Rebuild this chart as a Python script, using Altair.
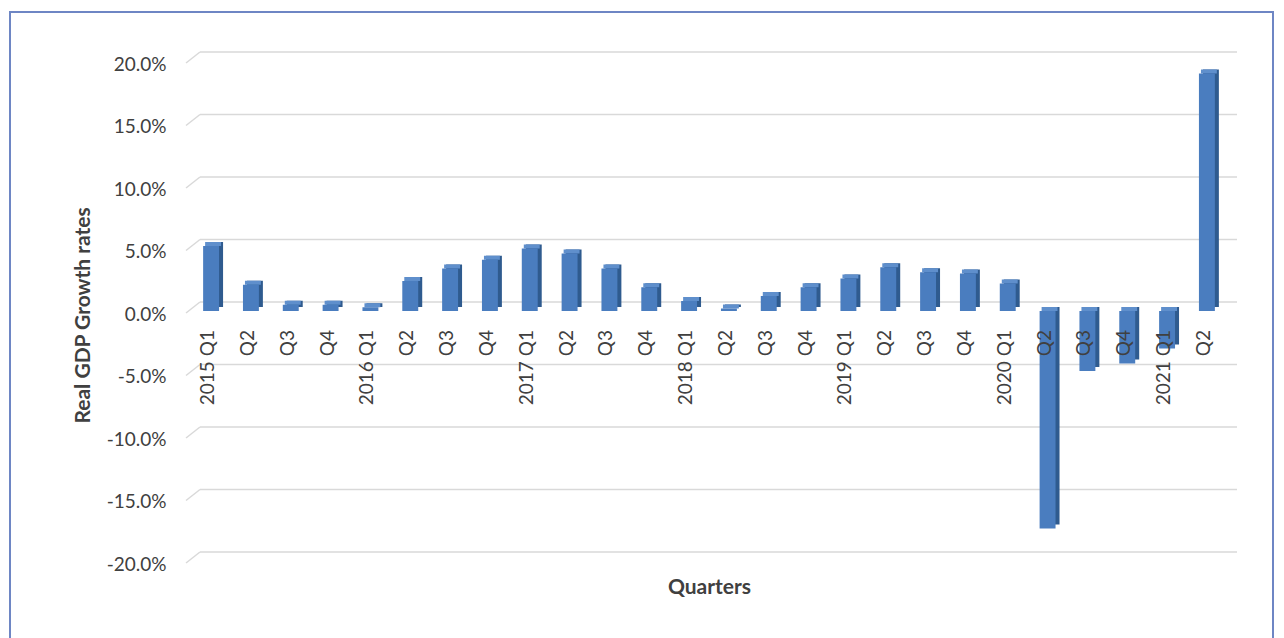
import altair as alt
import pandas as pd

labels = ["2015 Q1", "Q2", "Q3", "Q4", "2016 Q1", "Q2", "Q3", "Q4",
          "2017 Q1", "Q2", "Q3", "Q4", "2018 Q1", "Q2", "Q3", "Q4",
          "2019 Q1", "Q2", "Q3", "Q4", "2020 Q1", "Q2", "Q3", "Q4",
          "2021 Q1", "Q2"]
growth = [5.2, 2.1, 0.5, 0.5, 0.3, 2.4, 3.4, 4.1,
          5.0, 4.6, 3.4, 1.9, 0.8, 0.2, 1.2, 1.9,
          2.6, 3.5, 3.1, 3.0, 2.2, -17.4, -4.8, -4.2,
          -3.0, 19.0]
y_ticks = [-0.20, -0.15, -0.10, -0.05, 0.0, 0.05, 0.10, 0.15, 0.20]

keys = [f"k{i:02d}" for i in range(len(labels))]
df = pd.DataFrame({
    "key": keys,
    "label": labels,
    "v": [g / 100 for g in growth],
})
df["top"] = df["v"].clip(lower=0)
df["zero"] = 0.0
grid = pd.DataFrame({"t": y_ticks})

W, H = 1046, 500
FONT = "Lato"
TXT = "#404040"

xscale = alt.Scale(domain=keys, paddingInner=0.6, paddingOuter=0.43)
yscale = alt.Scale(domain=[-0.2, 0.2], nice=False, zero=False)

X = alt.X("key:N", scale=xscale, sort=keys,
          axis=alt.Axis(labels=False, ticks=False, domain=False, grid=False,
                        title="Quarters", titleFont=FONT, titleFontSize=21,
                        titleFontWeight="bold", titleColor=TXT,
                        titleY=26, titleBaseline="middle"))

# gridlines on the back wall with the perspective stub
grid_diag = alt.Chart(grid).mark_rule(color="#d9d9d9", strokeWidth=1.5,
                                      yOffset=2, y2Offset=-9).encode(
    x=alt.value(0), x2=alt.value(14),
    y=alt.Y("t:Q", scale=yscale,
            axis=alt.Axis(values=y_ticks,
                          labelExpr="replace(format(datum.value, '.1%'), '\u2212', '-')",
                          grid=False, ticks=False,
                          domain=False, labelFont=FONT, labelFontSize=19,
                          labelColor=TXT, labelPadding=20, labelOffset=3,
                          title="Real GDP Growth rates", titleFont=FONT,
                          titleFontSize=21, titleFontWeight="bold",
                          titleColor=TXT, titleX=-103, titleY=H / 2 + 4,
                          titleAngle=270, titleAlign="center",
                          titleBaseline="middle")),
    y2="t:Q",
)
grid_flat = alt.Chart(grid).mark_rule(color="#d9d9d9", strokeWidth=1.5,
                                      yOffset=-9).encode(
    x=alt.value(14), x2=alt.value(W + 5),
    y=alt.Y("t:Q", scale=yscale),
)

# 3D-looking bars: side face, top face, front face
side = alt.Chart(df).mark_bar(color="#2f5b8f", xOffset=4, yOffset=-4,
                              y2Offset=-4).encode(
    x=X, y=alt.Y("v:Q", scale=yscale), y2="zero:Q")
topface = alt.Chart(df).mark_bar(color="#5f8fcc", xOffset=2,
                                 y2Offset=-4).encode(
    x=X, y=alt.Y("top:Q", scale=yscale), y2="top:Q")
front = alt.Chart(df).mark_bar(color="#4a7dbf").encode(
    x=X, y=alt.Y("v:Q", scale=yscale), y2="zero:Q")

xlabels = alt.Chart(df).mark_text(angle=270, align="right", baseline="middle",
                                  font=FONT, fontSize=19, color=TXT,
                                  yOffset=19, xOffset=-3).encode(
    x=X, y=alt.Y("zero:Q", scale=yscale), text="label:N")

border = alt.Chart(grid).mark_rect(fill=None, stroke="#6f87c3",
                                   strokeWidth=1.5).encode(
    x=alt.value(-176), x2=alt.value(1087),
    y=alt.value(-49), y2=alt.value(700))

chart = alt.layer(border, grid_diag, grid_flat, side, topface, front, xlabels).properties(
    width=W, height=H,
    autosize=alt.AutoSizeParams(type="none"),
    padding={"left": 186, "top": 61, "right": 52, "bottom": 77},
    background="white",
).configure_view(stroke=None)

chart.save("out.html", embed_options={"renderer": "svg", "actions": False})
